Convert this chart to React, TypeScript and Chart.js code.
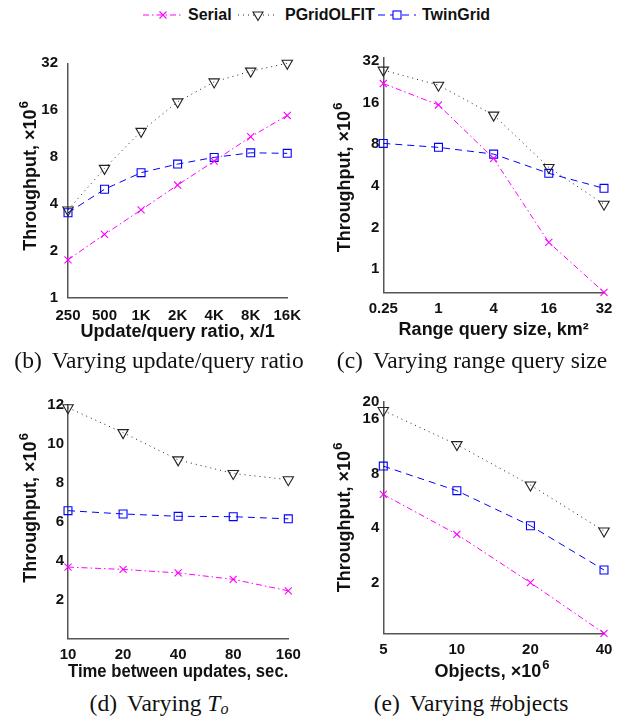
import React, { useEffect, useRef } from "react";
import { Chart, registerables } from "chart.js";

Chart.register(...registerables);

// ---------- data ----------
const seriesNames = ["Serial", "PGridOLFIT", "TwinGrid"];

// (b) update/query ratio
const ratioLabels = ["250", "500", "1K", "2K", "4K", "8K", "16K"];
const ratioSerial = [1.75, 2.55, 3.66, 5.29, 7.53, 10.8, 14.8];
const ratioPGrid = [3.66, 6.77, 11.7, 18.1, 24.3, 28.5, 32];
const ratioTwin = [3.51, 4.97, 6.35, 7.21, 7.96, 8.52, 8.45];
const ratioTicks = [1, 2, 4, 8, 16, 32];

// (c) range query size
const rangeLabels = ["0.25", "1", "4", "16", "32"];
const rangeSerial = [22, 15.4, 6.32, 1.56, 0.68];
const rangePGrid = [27.5, 21.4, 13.0, 5.44, 2.95];
const rangeTwin = [8.12, 7.6, 6.79, 4.93, 3.84];
const rangeTicks = [1, 2, 4, 8, 16, 32];

// (d) time between updates
const toLabels = ["10", "20", "40", "80", "160"];
const toSerial = [3.67, 3.55, 3.37, 3.04, 2.45];
const toPGrid = [11.86, 10.58, 9.18, 8.48, 8.16];
const toTwin = [6.57, 6.4, 6.28, 6.26, 6.15];

// (e) number of objects
const objLabels = ["5", "10", "20", "40"];
const objSerial = [6.15, 3.7, 2.0, 1.05];
const objPGrid = [17.9, 11.6, 6.93, 3.86];
const objTwin = [8.82, 6.45, 4.13, 2.35];
const objTicks = [2, 4, 8, 16, 20];

// ---------- styles ----------
const SANS = "'Liberation Sans', Arial, Helvetica, sans-serif";
const SERIF = "'Liberation Serif', 'Times New Roman', serif";
const TICK_FONT = { family: SANS, size: 15, weight: "bold" as const };
const TITLE_FONT = { family: SANS, size: 18, weight: "bold" as const };
const AXIS_COLOR = "#555";
const TEXT_COLOR = "#111";
const MAGENTA = "#ff00ff";
const BLUE = "#0000ff";
const DARK = "#222";

const Y_TITLE_MAIN = "Throughput, \u00d710";
const SUP = "6";

// draws an axis title with a real superscript (e.g. "×10" + raised "6")
const supTitlePlugin = {
  id: "supTitle",
  afterDraw(chart: any, _args: any, opts: any) {
    const items = (opts && opts.items) || [];
    const ctx = chart.ctx as CanvasRenderingContext2D;
    for (const it of items) {
      ctx.save();
      const mainFont = `bold 18px ${SANS}`;
      const supFont = `bold 13px ${SANS}`;
      ctx.font = mainFont;
      const w1 = ctx.measureText(it.text).width;
      ctx.font = supFont;
      const w2 = ctx.measureText(it.sup).width;
      const total = w1 + 1 + w2;
      ctx.translate(it.x, it.y);
      if (it.vertical) ctx.rotate(-Math.PI / 2);
      ctx.fillStyle = TEXT_COLOR;
      ctx.textAlign = "left";
      ctx.textBaseline = "alphabetic";
      const base = 6.5;
      ctx.font = mainFont;
      ctx.fillText(it.text, -total / 2, base);
      ctx.font = supFont;
      ctx.fillText(it.sup, -total / 2 + w1 + 1, base - 8);
      ctx.restore();
    }
  },
};

function makeDatasets(serial: number[], pgrid: number[], twin: number[]) {
  const common = {
    borderWidth: 1,
    pointBorderWidth: 1.1,
    pointBackgroundColor: "rgba(0,0,0,0)",
    fill: false,
    tension: 0,
    clip: false as const,
  };
  return [
    {
      ...common,
      label: seriesNames[0],
      data: serial,
      borderColor: MAGENTA,
      pointBorderColor: MAGENTA,
      borderDash: [6, 3, 1.5, 3],
      pointStyle: "crossRot" as const,
      pointRadius: 5,
    },
    {
      ...common,
      label: seriesNames[1],
      data: pgrid,
      borderColor: DARK,
      pointBorderColor: DARK,
      borderDash: [1, 4],
      pointStyle: "triangle" as const,
      pointRotation: 180,
      pointRadius: 6,
    },
    {
      ...common,
      label: seriesNames[2],
      data: twin,
      borderColor: BLUE,
      pointBorderColor: BLUE,
      borderDash: [7, 5],
      pointStyle: "rect" as const,
      pointRadius: 5.6,
    },
  ];
}

function xScale(title: string | null, height: number, pad: number) {
  return {
    type: "category" as const,
    offset: false,
    grid: { display: false, drawTicks: false },
    border: { display: true, color: AXIS_COLOR, width: 1.5 },
    ticks: { font: TICK_FONT, color: TEXT_COLOR, padding: pad, maxRotation: 0, autoSkip: false },
    title: {
      display: title !== null,
      text: title || "",
      font: TITLE_FONT,
      color: TEXT_COLOR,
      padding: { top: 0, bottom: 0 },
    },
    afterFit: (s: any) => {
      s.height = height;
    },
  };
}

function yLog(min: number, max: number, ticks: number[], width: number, pad: number) {
  return {
    type: "logarithmic" as const,
    min,
    max,
    grid: { display: false, drawTicks: false },
    border: { display: true, color: AXIS_COLOR, width: 1.5 },
    ticks: {
      font: TICK_FONT,
      color: TEXT_COLOR,
      padding: pad,
      autoSkip: false,
      callback: (v: any) => String(v),
    },
    afterBuildTicks: (s: any) => {
      s.ticks = ticks.map((v) => ({ value: v }));
    },
    title: { display: false },
    afterFit: (s: any) => {
      s.width = width;
    },
  };
}

function yLinear(min: number, max: number, step: number, width: number, pad: number) {
  return {
    type: "linear" as const,
    min,
    max,
    grid: { display: false, drawTicks: false },
    border: { display: true, color: AXIS_COLOR, width: 1.5 },
    ticks: {
      font: TICK_FONT,
      color: TEXT_COLOR,
      padding: pad,
      stepSize: step,
      autoSkip: false,
      callback: (v: any) => (v === 0 ? "" : String(v)),
    },
    title: { display: false },
    afterFit: (s: any) => {
      s.width = width;
    },
  };
}

function baseOptions(padding: any, scales: any, titles: any[]) {
  return {
    responsive: false,
    animation: false as const,
    devicePixelRatio: 1,
    layout: { padding },
    plugins: {
      legend: { display: false },
      tooltip: { enabled: false },
      title: { display: false },
      supTitle: { items: titles },
    },
    events: [] as any[],
    scales,
  };
}

type PanelProps = { left: number; top: number; width: number; height: number; make: () => any };

function Panel({ left, top, width, height, make }: PanelProps) {
  const ref = useRef<HTMLCanvasElement>(null);
  useEffect(() => {
    const chart = new Chart(ref.current as HTMLCanvasElement, make());
    return () => chart.destroy();
  }, []);
  return (
    <div style={{ position: "absolute", left, top, width, height }}>
      <canvas ref={ref} width={width} height={height} style={{ width, height, display: "block" }} />
    </div>
  );
}

const makeB = () => ({
  type: "line",
  data: { labels: ratioLabels, datasets: makeDatasets(ratioSerial, ratioPGrid, ratioTwin) },
  plugins: [supTitlePlugin],
  options: baseOptions(
    { left: 0, top: 23.3, right: 21, bottom: 0 },
    { x: xScale("Update/query ratio, x/1", 45.3, 9), y: yLog(1, 32, ratioTicks, 68, 10) },
    [{ text: Y_TITLE_MAIN, sup: SUP, x: 29, y: 136, vertical: true }]
  ),
});

const makeC = () => ({
  type: "line",
  data: { labels: rangeLabels, datasets: makeDatasets(rangeSerial, rangePGrid, rangeTwin) },
  plugins: [supTitlePlugin],
  options: baseOptions(
    { left: 0, top: 17.4, right: 22, bottom: 0 },
    { x: xScale("Range query size, km\u00b2", 48.7, 8), y: yLog(0.68, 34, rangeTicks, 73.3, 4) },
    [{ text: Y_TITLE_MAIN, sup: SUP, x: 33.3, y: 137.5, vertical: true }]
  ),
});

const makeD = () => ({
  type: "line",
  data: { labels: toLabels, datasets: makeDatasets(toSerial, toPGrid, toTwin) },
  plugins: [supTitlePlugin],
  options: baseOptions(
    { left: 0, top: 45, right: 21.7, bottom: 0 },
    { x: xScale("Time between updates, sec.", 44.5, 7), y: yLinear(0, 12, 2, 68, 4) },
    [{ text: Y_TITLE_MAIN, sup: SUP, x: 29, y: 148, vertical: true }]
  ),
});

const makeE = () => ({
  type: "line",
  data: { labels: objLabels, datasets: makeDatasets(objSerial, objPGrid, objTwin) },
  plugins: [supTitlePlugin],
  options: baseOptions(
    { left: 0, top: 41.8, right: 22, bottom: 0 },
    { x: xScale(null, 49.7, 8), y: yLog(1.05, 20, objTicks, 73.3, 4) },
    [
      { text: Y_TITLE_MAIN, sup: SUP, x: 33.3, y: 157.5, vertical: true },
      { text: "Objects, \u00d710", sup: SUP, x: 182, y: 310, vertical: false },
    ]
  ),
});

function Legend() {
  const textProps = { fontFamily: SANS, fontWeight: "bold" as const, fontSize: 16, fill: "#111" };
  return (
    <svg width={626} height={32} style={{ position: "absolute", left: 0, top: 0 }}>
      <line x1={143} y1={15} x2={182} y2={15} stroke={MAGENTA} strokeWidth={1} strokeDasharray="6 3 1.5 3" />
      <path d="M159.5 11.5 L166.5 18.5 M166.5 11.5 L159.5 18.5" stroke={MAGENTA} strokeWidth={1.1} fill="none" />
      <text x={188} y={20} {...textProps}>{seriesNames[0]}</text>

      <line x1={238} y1={15} x2={276} y2={15} stroke={DARK} strokeWidth={1} strokeDasharray="1 4" />
      <path d="M253 12 L263 12 L258 20.5 Z" stroke={DARK} strokeWidth={1.1} fill="#fff" />
      <text x={285} y={20} {...textProps}>{seriesNames[1]}</text>

      <line x1={378} y1={15} x2={416} y2={15} stroke={BLUE} strokeWidth={1} strokeDasharray="7 5" />
      <rect x={393} y={11} width={8} height={8} stroke={BLUE} strokeWidth={1.1} fill="#fff" />
      <text x={422} y={20} {...textProps}>{seriesNames[2]}</text>
    </svg>
  );
}

const captionStyle: React.CSSProperties = {
  position: "absolute",
  textAlign: "center",
  fontFamily: SERIF,
  fontSize: 23.5,
  lineHeight: "22px",
  whiteSpace: "nowrap",
  color: "#111",
};

export default function App() {
  return (
    <div style={{ position: "absolute", left: 0, top: 0, width: 626, height: 719, background: "#fff", overflow: "hidden" }}>
      <Legend />
      <Panel left={0} top={40} width={310} height={303} make={makeB} />
      <Panel left={310} top={40} width={316} height={301} make={makeC} />
      <Panel left={0} top={360} width={310} height={323} make={makeD} />
      <Panel left={310} top={360} width={316} height={323} make={makeE} />

      <div style={{ ...captionStyle, left: 0, width: 318, top: 349.4 }}>
        (b)<span style={{ marginLeft: 10 }}>Varying update/query ratio</span>
      </div>
      <div style={{ ...captionStyle, left: 318, width: 308, top: 349.4 }}>
        (c)<span style={{ marginLeft: 10 }}>Varying range query size</span>
      </div>
      <div style={{ ...captionStyle, left: 0, width: 318, top: 692.1 }}>
        (d)<span style={{ marginLeft: 10 }}>
          Varying <i>T</i>
          <sub style={{ fontSize: 16, verticalAlign: "-3px", lineHeight: 0 }}>
            <i>o</i>
          </sub>
        </span>
      </div>
      <div style={{ ...captionStyle, left: 316, width: 310, top: 692.1 }}>
        (e)<span style={{ marginLeft: 10 }}>Varying #objects</span>
      </div>
    </div>
  );
}
